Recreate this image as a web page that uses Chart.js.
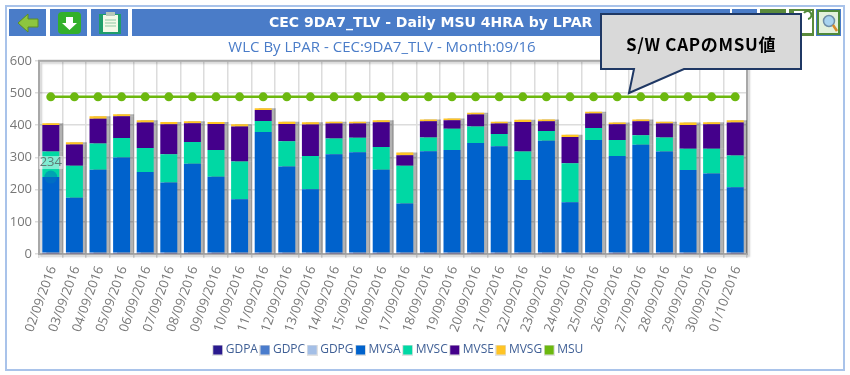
<!DOCTYPE html>
<html><head><meta charset="utf-8">
<script src="https://cdn.jsdelivr.net/npm/chart.js@4"></script>
<style>
html,body{margin:0;padding:0;background:#fff;overflow:hidden}
#page{position:relative;width:850px;height:375px;filter:blur(0.45px);font-family:"DejaVu Sans",sans-serif}
#frame{position:absolute;left:5px;top:5px;width:836px;height:362px;border:2px solid #a9c3ea}
.btn{position:absolute;top:9px;height:27px;background:#4a7cc8}
#bar{left:132px;width:598px;color:#fff;font-weight:bold;font-size:14px;line-height:27px;text-align:left;text-indent:137px;white-space:nowrap}
#sub{position:absolute;left:82px;width:600px;top:36px;text-align:center;color:#4a7cc8;font-size:15px;font-family:"Open Sans",sans-serif}
#cv{position:absolute;left:0;top:50px}
svg{position:absolute;left:0;top:0}
#call{font-family:"Noto Sans CJK JP","Liberation Sans",sans-serif;font-weight:bold;font-size:17px;letter-spacing:0.7px}
</style></head><body>
<div id="page">
<div id="frame"></div>
<div class="btn" style="left:9px;width:37px"></div>
<div class="btn" style="left:50px;width:37px"></div>
<div class="btn" style="left:91px;width:37px"></div>
<div class="btn" id="bar">CEC 9DA7_TLV - Daily MSU 4HRA by LPAR</div>
<div class="btn" style="left:732px;width:25px"></div>
<div class="btn" style="left:760px;width:26px;background:#5a8a3c"></div>
<div class="btn" style="left:789px;width:25px;background:#5a8a3c"></div>
<div class="btn" style="left:816px;width:25px"></div>
<div id="sub">WLC By LPAR - CEC:9DA7_TLV - Month:09/16</div>
<canvas id="cv" width="798" height="316" style="width:798px;height:316px"></canvas>
<svg width="850" height="375">
 <path d="M18 23 L28 14 L28 19 L38 19 L38 27 L28 27 L28 32 Z" fill="#8dc63f" stroke="#5e8f22"/>
 <rect x="58" y="12" width="23" height="22" rx="4" fill="#33b02a"/>
 <path d="M66 17 H73 V23 H77 L69.500 30 L62 23 H66 Z" fill="#fff"/>
 <rect x="99" y="14" width="22" height="20" fill="#1f9e6a"/>
 <rect x="103" y="15" width="15" height="17" fill="#f4f9e8"/>
 <rect x="106" y="12" width="9" height="4" fill="#b8c8b8"/>
 <path d="M105 20H116M105 23H116M105 26H116" stroke="#8fc9a4"/>
 <rect x="794" y="11" width="18" height="22" fill="#fff"/>
 <path d="M804 13a4 4 0 1 1 4 6" fill="none" stroke="#4f8a3a" stroke-width="2"/>
 <rect x="818" y="11" width="21" height="23" fill="#e4f1dc" stroke="#4f8a3a" stroke-width="2"/>
 <circle cx="829" cy="21" r="5.500" fill="#a9d3ef" stroke="#6f8ea8" stroke-width="1.500"/>
 <path d="M833 25L837 31" stroke="#d98b2a" stroke-width="2.500"/>
 <path id="shape" d="M601 14H801V69H684L629 93L634 69H601Z" fill="#d9d9d9" stroke="#1f3864" stroke-width="2"/>
 <text id="call" x="701" y="51" text-anchor="middle" fill="#000">S/W CAPのMSU値</text>
</svg>
</div>
<script>
const categories = ["02/09/2016","03/09/2016","04/09/2016","05/09/2016","06/09/2016","07/09/2016","08/09/2016","09/09/2016","10/09/2016","11/09/2016","12/09/2016","13/09/2016","14/09/2016","15/09/2016","16/09/2016","17/09/2016","18/09/2016","19/09/2016","20/09/2016","21/09/2016","22/09/2016","23/09/2016","24/09/2016","25/09/2016","26/09/2016","27/09/2016","28/09/2016","29/09/2016","30/09/2016","01/10/2016"];
const GDPA = [3,3,3,3,3,3,3,3,3,3,3,3,3,3,3,3,3,3,3,3,3,3,3,3,3,3,3,3,3,3];
const GDPC = [1,1,1,1,1,1,1,1,1,1,1,1,1,1,1,1,1,1,1,1,1,1,1,1,1,1,1,1,1,1];
const GDPG = [1,1,1,1,1,1,1,1,1,1,1,1,1,1,1,1,1,1,1,1,1,1,1,1,1,1,1,1,1,1];
const MVSA = [234,170,257,295,250,217,275,235,165,374,267,196,305,311,257,152,314,318,340,330,225,347,156,349,299,334,313,256,245,202];
const MVSC = [79,99,81,60,74,88,68,83,117,34,78,103,49,45,70,117,43,66,51,38,88,30,121,37,50,30,44,66,77,99];
const MVSE = [83,66,77,68,79,93,58,81,109,34,54,98,46,44,77,33,50,26,37,32,92,30,81,45,49,43,43,74,76,102];
const MVSG = [5,7,8,6,7,7,6,6,7,6,7,7,6,6,6,8,6,6,6,6,7,6,7,6,5,6,6,7,6,7];
const MSU  = [488,488,488,488,488,488,488,488,488,488,488,488,488,488,488,488,488,488,488,488,488,488,488,488,488,488,488,488,488,488];
const yTicks = [0,100,200,300,400,500,600];
const hoverIndex = 0;
const hoverLabel = "234";

function bar(label, data, color){
  return {type:'bar', label, data, backgroundColor:color, borderWidth:0, stack:'s', order:1,
          categoryPercentage:1, barPercentage:0.72};
}
function swatch(color){
  const k=document.createElement('canvas'); k.width=11; k.height=11;
  const x=k.getContext('2d'); x.fillStyle='#e2e2e2'; x.fillRect(0,0,11,11);
  x.fillStyle=color; x.fillRect(1,1,9,9);
  return k;
}
const frameAndShadow = {
  id:'frameAndShadow',
  afterLayout(c){ c.legend.left+=26; c.legend.right+=26; },
  beforeDatasetDraw(c, args){
    if (c.data.datasets[args.index].type === 'bar'){
      const x = c.ctx; x.save();
      x.shadowColor='rgba(0,0,0,0.3)'; x.shadowOffsetX=4; x.shadowOffsetY=0; x.shadowBlur=0;
    }
  },
  afterDatasetDraw(c, args){
    if (c.data.datasets[args.index].type === 'bar') c.ctx.restore();
  },
  beforeDatasetsDraw(c){
    const x=c.ctx, a=c.chartArea; x.save();
    x.strokeStyle='#a8a8a8'; x.lineWidth=2;
    x.shadowColor='rgba(0,0,0,0.2)'; x.shadowOffsetX=2; x.shadowOffsetY=2; x.shadowBlur=2;
    x.strokeRect(a.left,a.top,a.right-a.left,a.bottom-a.top);
    x.restore();
  },
  afterDatasetsDraw(c){
    const x=c.ctx, px=c.scales.x.getPixelForValue(hoverIndex);
    const top=GDPA[hoverIndex]+GDPC[hoverIndex]+GDPG[hoverIndex]+MVSA[hoverIndex];
    const py=c.scales.y.getPixelForValue(top);
    x.save();
    x.fillStyle='rgba(0,120,190,0.55)';
    x.beginPath(); x.arc(px,py,6.5,0,Math.PI*2); x.fill();
    x.fillStyle='rgba(255,255,255,0.5)';
    x.fillRect(px-12,py-21,24,13);
    x.fillStyle='#5f7b76'; x.font='13px "Open Sans"'; x.textAlign='center'; x.textBaseline='middle';
    x.fillText(hoverLabel,px,py-14.5);
    x.restore();
  }
};
new Chart(document.getElementById('cv'),{
  data:{labels:categories,datasets:[
    bar('GDPA',GDPA,'#2a1a8e'),
    bar('GDPC',GDPC,'#4a7ccc'),
    bar('GDPG',GDPG,'#a4bfe6'),
    bar('MVSA',MVSA,'#0062cc'),
    bar('MVSC',MVSC,'#00d8a4'),
    bar('MVSE',MVSE,'#44008b'),
    bar('MVSG',MVSG,'#ffc425'),
    {type:'line',label:'MSU',data:MSU,borderColor:'#6cb80f',backgroundColor:'#6cb80f',borderWidth:2.5,
     pointRadius:4.5,pointBackgroundColor:'#6cb80f',pointBorderWidth:0,order:0,tension:0}
  ]},
  options:{
    responsive:false,animation:false,
    layout:{padding:{top:9,right:51,left:0,bottom:0}},
    scales:{
      x:{stacked:true,offset:true,
         afterFit(s){s.height=85;},
         grid:{color:'#dcdcdc',lineWidth:1.5,tickLength:4,offset:true},
         border:{display:false},
         ticks:{color:'#777',font:{family:'"Open Sans"',size:13},minRotation:70,maxRotation:70,autoSkip:false,padding:6,labelOffset:2}},
      y:{stacked:true,min:0,max:600,
         afterFit(s){s.width=39;},
         afterBuildTicks(s){s.ticks=yTicks.map(v=>({value:v}));},
         grid:{color:'#dcdcdc',lineWidth:1.5,tickLength:4},
         border:{display:false},
         ticks:{color:'#777',font:{family:'"Open Sans"',size:13},padding:3}}
    },
    plugins:{
      title:{display:false},
      tooltip:{enabled:false},
      legend:{position:'bottom',labels:{boxWidth:4,boxHeight:11,padding:5,color:'#3f5f95',usePointStyle:true,
              font:{family:'"Open Sans"',size:12},
              sort:(a,b)=>a.datasetIndex-b.datasetIndex,
              generateLabels(c){
                return Chart.defaults.plugins.legend.labels.generateLabels(c).map((l,i)=>{
                  const d=c.data.datasets[l.datasetIndex];
                  l.pointStyle=swatch(d.backgroundColor); return l;
                });
              }}}
    }
  },
  plugins:[frameAndShadow]
});
</script>
</body></html>
